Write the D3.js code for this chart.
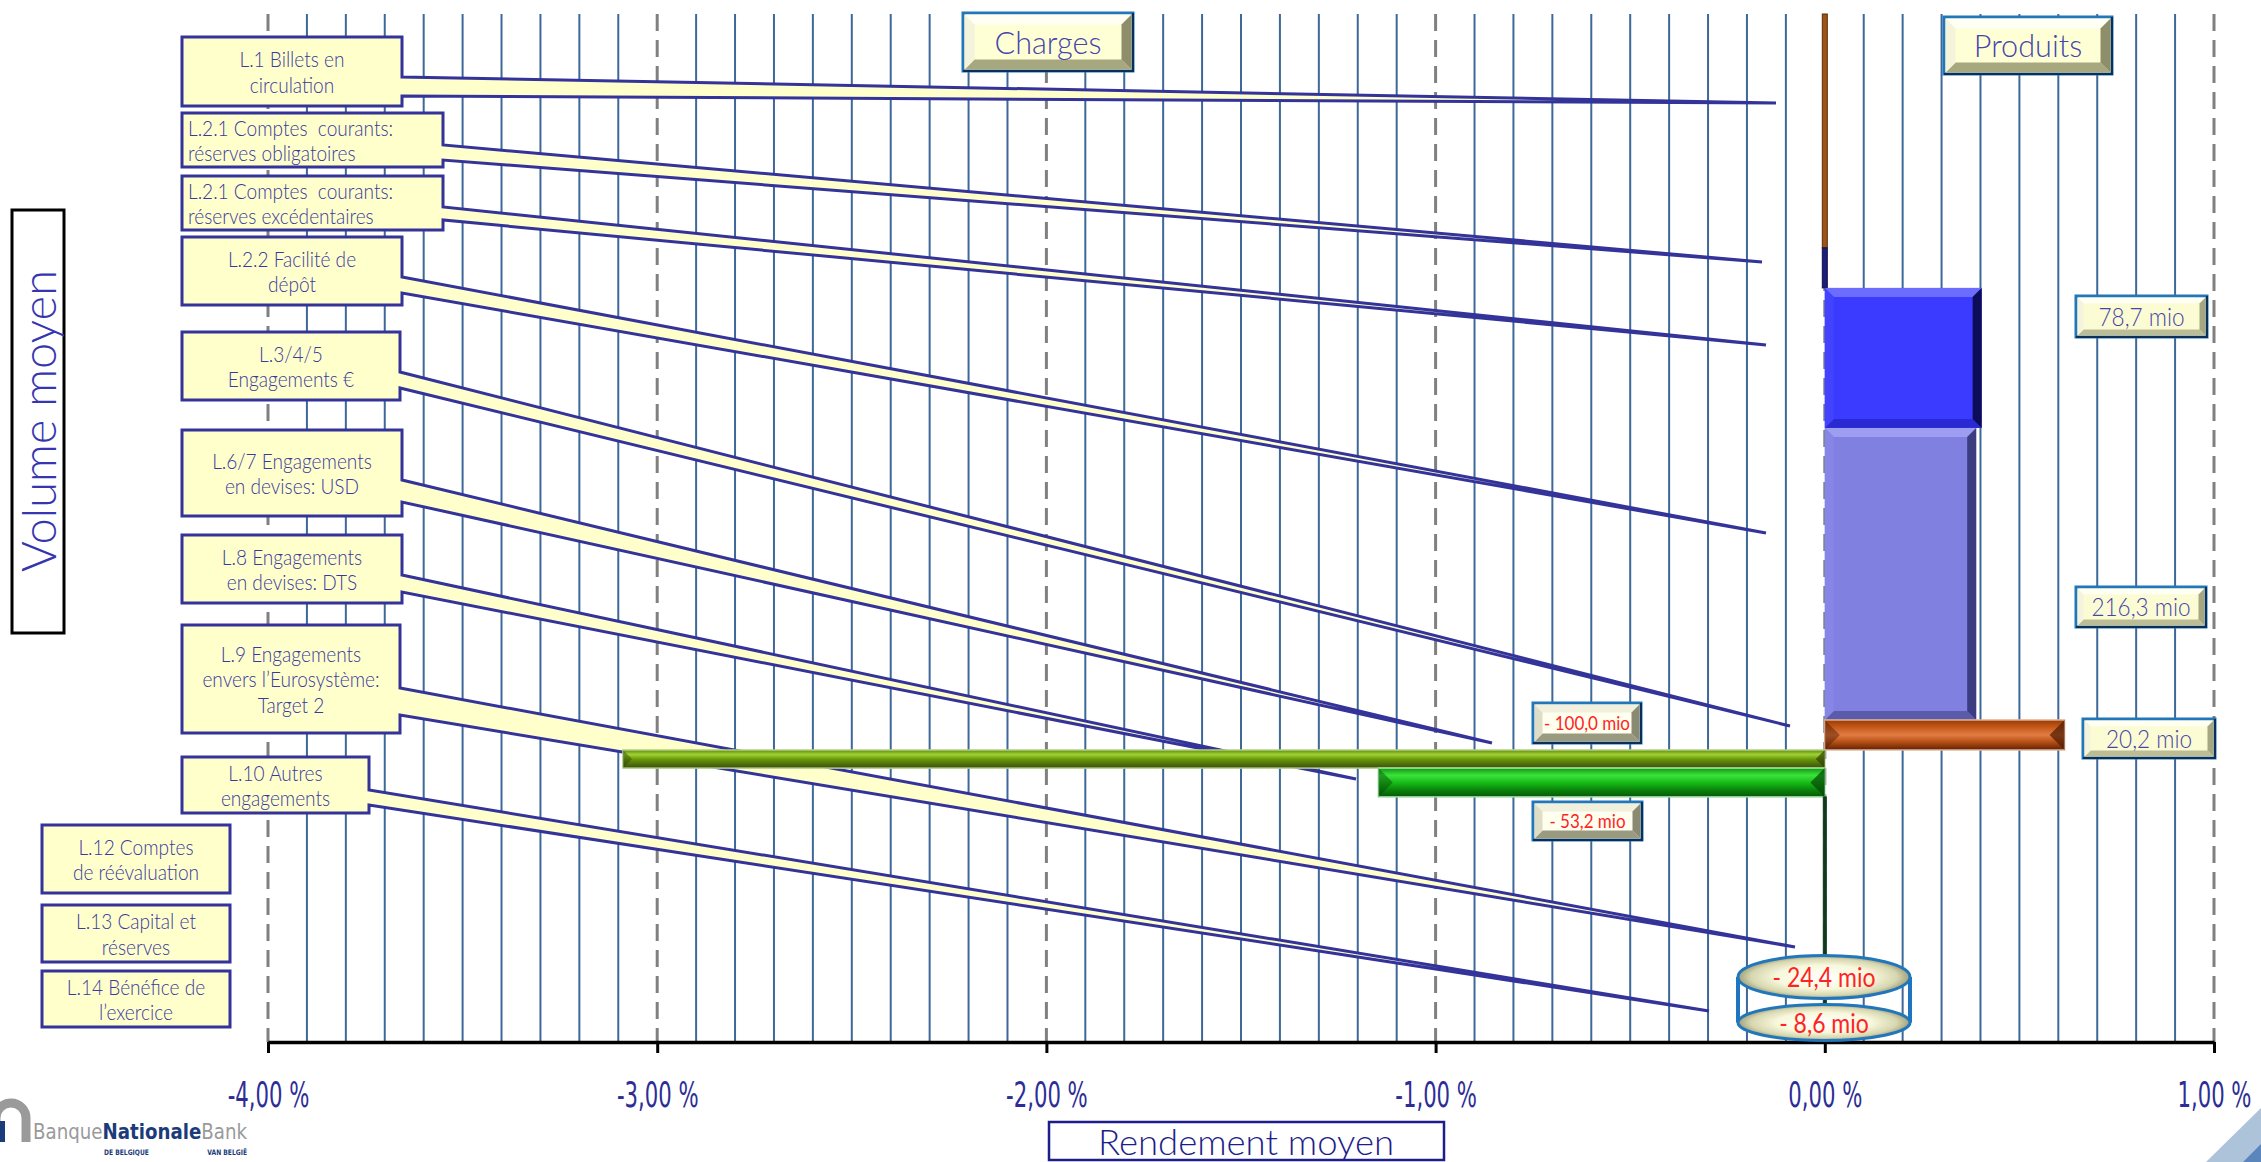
<!DOCTYPE html>
<html>
<head>
<meta charset="utf-8">
<script src="https://cdn.jsdelivr.net/npm/d3@7"></script>
<style>
html, body { margin: 0; padding: 0; background: #fff; overflow: hidden; }
svg { display: block; }
text { white-space: pre; }
</style>
</head>
<body>
<div id="chart"></div>
<script>
// --- data ---
var postes = ["L.1 Billets en circulation", "L.2.1 Réserves obligatoires", "L.2.1 Réserves excédentaires",
    "L.2.2 Facilité de dépôt", "L.3/4/5 Engagements €", "L.6/7 Engagements en devises: USD",
    "L.8 Engagements en devises: DTS", "L.9 à L.14"];
var rendements = [0, 0, 0.403, 0.389, 0.616, -3.088, -1.147, 0];      // rendement moyen, %
var volumes = [37.4, 6.4, 22.4, 46.7, 4.8, 2.9, 4.6, 39.2];           // volume moyen, Md €
var montants = [null, null, 78.7, 216.3, 20.2, -100.0, -53.2, null];  // mio €
var montantsBas = [-24.4, -8.6];                                      // mio €
var tickValues = [-4, -3, -2, -1, 0, 1];
var etiquettes = [
    ["L.1 Billets en", "circulation"],
    ["L.2.1 Comptes  courants:", "réserves obligatoires"],
    ["L.2.1 Comptes  courants:", "réserves excédentaires"],
    ["L.2.2 Facilité de", "dépôt"],
    ["L.3/4/5", "Engagements €"],
    ["L.6/7 Engagements", "en devises: USD"],
    ["L.8 Engagements", "en devises: DTS"],
    ["L.9 Engagements", "envers l’Eurosystème:", "Target 2"],
    ["L.10 Autres", "engagements"],
    ["L.12 Comptes", "de réévaluation"],
    ["L.13 Capital et", "réserves"],
    ["L.14 Bénéfice de", "l’exercice"]
];

// --- layout ---
var W = 2261, H = 1162;
var LABEL_FONT = "Lato, 'Open Sans', sans-serif";
var NARROW_FONT = "'Liberation Sans Narrow', 'DejaVu Sans Condensed', sans-serif";
var NAVY = "#33339a";

var calloutLayout = [
    {x0: 182, x1: 402, y0: 37, y1: 106, w0: 77, w1: 96, tip: [1776, 103]},
    {x0: 182, x1: 443, y0: 113, y1: 167, w0: 145, w1: 160, tip: [1762, 262], left: true},
    {x0: 182, x1: 443, y0: 176, y1: 230, w0: 207, w1: 220, tip: [1766, 345], left: true},
    {x0: 182, x1: 402, y0: 237, y1: 305, w0: 277, w1: 293, tip: [1766, 533]},
    {x0: 182, x1: 400, y0: 332, y1: 400, w0: 372, w1: 388, tip: [1790, 726]},
    {x0: 182, x1: 402, y0: 430, y1: 516, w0: 480, w1: 502, tip: [1492, 743]},
    {x0: 182, x1: 402, y0: 535, y1: 603, w0: 575, w1: 592, tip: [1356, 779]},
    {x0: 182, x1: 400, y0: 625, y1: 733, w0: 688, w1: 715, tip: [1795, 947]},
    {x0: 182, x1: 369, y0: 757, y1: 813, w0: 790, w1: 805, tip: [1709, 1011]},
    {x0: 42, x1: 230, y0: 825, y1: 893},
    {x0: 42, x1: 230, y0: 905, y1: 962},
    {x0: 42, x1: 230, y0: 971, y1: 1027}
];

var barStyles = [
    {zero: "#9a5418", edge: "#5a2c08", zw: 5},
    {zero: "#1c1c7a", edge: "#10104a", zw: 5},
    {face: "#3b3bff", top: "#6c6cff", bottom: "#2a2ad2", left: "#4242ff", right: "#0c0c58", bevel: 9},
    {face: "#8080e0", top: "#9d9df2", bottom: "#5b5bac", left: "#8686e6", right: "#3c3c80", bevel: 9},
    {grad: ["#9a3a02", "#c65a1c", "#e27c42", "#b24c14", "#5c2204"], border: "#e2b49a", cap: "#4a1a02"},
    {grad: ["#5e8c00", "#a0d038", "#6a9a06", "#52720e", "#3a5008"], border: "#b4d08c", cap: "#2e4206"},
    {grad: ["#0c9a0c", "#3ce23c", "#18bc18", "#0a860a", "#0a560a"], border: "#9edc9e", cap: "#064606"},
    {zero: "#0e3a1e", edge: "#0e3a1e", zw: 3}
];

var montantBoxes = [null, null,
    {x: 2076, y: 296, w: 131, h: 41}, {x: 2076, y: 587, w: 130, h: 40}, {x: 2083, y: 719, w: 132, h: 39},
    {x: 1533, y: 703, w: 108, h: 40}, {x: 1533, y: 802, w: 109, h: 38}, null];
var ellipses = [{cx: 1824, cy: 977, rx: 86, ry: 21.5}, {cx: 1824, cy: 1022.5, rx: 86, ry: 18}];

var locale = d3.formatLocale({decimal: ",", thousands: ".", grouping: [3], currency: ["", " €"], minus: "-"});
var fmtPct = function (v) { return locale.format(".2f")(v) + " %"; };
var fmtMio = function (v) { return (v < 0 ? "- " : "") + locale.format(".1f")(Math.abs(v)) + " mio"; };

var x = d3.scaleLinear().domain([-4, 1]).range([268, 2214]);
var y = d3.scaleLinear().domain([0, d3.sum(volumes)]).range([14, 1042]);

var svg = d3.select("#chart").append("svg")
    .attr("width", W).attr("height", H)
    .attr("viewBox", "0 0 " + W + " " + H);
var defs = svg.append("defs");

function measure(str, font, size, weight) {
    var t = svg.append("text").attr("font-family", font).attr("font-size", size)
        .attr("font-weight", weight || 400).text(str);
    var w = t.node().getComputedTextLength();
    t.remove();
    return w;
}
function squeeze(sel, factor) {
    sel.each(function () {
        var w = this.getComputedTextLength();
        this.setAttribute("textLength", w * factor);
        this.setAttribute("lengthAdjust", "spacingAndGlyphs");
    });
}
function poly(g, pts, fill) {
    g.append("polygon").attr("points", pts.map(function (p) { return p.join(","); }).join(" ")).attr("fill", fill);
}

// --- grid ---
var gridVals = d3.range(-40, 11).map(function (d) { return d / 10; });
svg.append("g").selectAll("line").data(gridVals).enter().append("line")
    .attr("x1", function (d) { return x(d); }).attr("x2", function (d) { return x(d); })
    .attr("y1", y(0)).attr("y2", y.range()[1])
    .attr("stroke", function (d) { return Math.abs(d - Math.round(d)) < 1e-9 ? "#808080" : "#3d6899"; })
    .attr("stroke-width", function (d) { return Math.abs(d - Math.round(d)) < 1e-9 ? 3 : 2; })
    .attr("stroke-dasharray", function (d) { return Math.abs(d - Math.round(d)) < 1e-9 ? "17,9" : null; });

// --- callouts ---
var labelFactor = 105 / measure("L.1 Billets en", LABEL_FONT, 21, 300);
var cg = svg.append("g");
calloutLayout.forEach(function (c, i) {
    var d = "M" + c.x0 + "," + c.y0 + "H" + c.x1;
    if (c.tip) {
        d += "V" + c.w0 + "L" + c.tip[0] + "," + c.tip[1] + "L" + c.x1 + "," + c.w1;
    }
    d += "V" + c.y1 + "H" + c.x0 + "Z";
    cg.append("path").attr("d", d).attr("fill", "#ffffcc")
        .attr("stroke", NAVY).attr("stroke-width", 3);
    var lines = etiquettes[i];
    var cy = (c.y0 + c.y1) / 2, lh = 25.5;
    var t = cg.append("g").selectAll("text").data(lines).enter().append("text")
        .attr("x", c.left ? c.x0 + 6 : (c.x0 + c.x1) / 2)
        .attr("y", function (s, j) { return cy + (j - (lines.length - 1) / 2) * lh + 21 * 0.4; })
        .attr("text-anchor", c.left ? "start" : "middle")
        .attr("font-family", LABEL_FONT).attr("font-weight", 300).attr("font-size", 21)
        .attr("fill", "#3a3a9e").text(function (s) { return s; });
    squeeze(t, labelFactor);
});

// --- bars ---
var cum = 0;
var stack = volumes.map(function (v, i) {
    var r = {i: i, y0: cum, y1: cum + v, r: rendements[i]};
    cum += v;
    return r;
});
var bg = svg.append("g");
stack.forEach(function (s) {
    var st = barStyles[s.i];
    var xa = x(Math.min(0, s.r)), xb = x(Math.max(0, s.r));
    var ya = y(s.y0), yb = y(s.y1), w = xb - xa, h = yb - ya;
    if (st.zero) {
        bg.append("rect").attr("x", x(0) - st.zw / 2).attr("y", ya).attr("width", st.zw).attr("height", h)
            .attr("fill", st.zero).attr("stroke", st.edge).attr("stroke-width", 1);
        return;
    }
    if (st.grad) {
        var id = "g" + s.i;
        var lg = defs.append("linearGradient").attr("id", id).attr("x1", 0).attr("y1", 0).attr("x2", 0).attr("y2", 1);
        st.grad.forEach(function (c, k) {
            lg.append("stop").attr("offset", k / (st.grad.length - 1)).attr("stop-color", c);
        });
        bg.append("rect").attr("x", xa).attr("y", ya).attr("width", w).attr("height", h)
            .attr("fill", "url(#" + id + ")").attr("stroke", st.border).attr("stroke-width", 1.5);
        var b = h / 2;
        bg.append("polygon").attr("points", [[xa, ya], [xa + b, ya + b], [xa, yb]].join(" "))
            .attr("fill", st.cap).attr("opacity", 0.45);
        bg.append("polygon").attr("points", [[xb, ya], [xb - b, ya + b], [xb, yb]].join(" "))
            .attr("fill", st.cap).attr("opacity", 0.7);
        return;
    }
    var bb = Math.min(st.bevel, h / 2, w / 2);
    bg.append("rect").attr("x", xa).attr("y", ya).attr("width", w).attr("height", h).attr("fill", st.face);
    poly(bg, [[xa, ya], [xb, ya], [xb - bb, ya + bb], [xa + bb, ya + bb]], st.top);
    poly(bg, [[xa, yb], [xb, yb], [xb - bb, yb - bb], [xa + bb, yb - bb]], st.bottom);
    poly(bg, [[xa, ya], [xa + bb, ya + bb], [xa + bb, yb - bb], [xa, yb]], st.left);
    poly(bg, [[xb, ya], [xb - bb, ya + bb], [xb - bb, yb - bb], [xb, yb]], st.right);
});

// --- axis ---
var axis = svg.append("g").attr("transform", "translate(0," + y.range()[1] + ")")
    .call(d3.axisBottom(x).tickValues(tickValues).tickFormat(fmtPct).tickSize(11).tickSizeOuter(0).tickPadding(28));
axis.select(".domain").attr("stroke", "#000").attr("stroke-width", 3.5);
axis.selectAll(".tick line").attr("stroke", "#000").attr("stroke-width", 3);
var tickText = axis.selectAll(".tick text")
    .attr("font-family", NARROW_FONT).attr("font-size", 36).attr("fill", "#2d2d96");
squeeze(tickText, 74 / measure("0,00 %", NARROW_FONT, 36));

// --- bevelled boxes ---
function bevelBox(g, bx, by, bw, bh, st) {
    g.append("rect").attr("x", bx).attr("y", by).attr("width", bw).attr("height", bh)
        .attr("fill", st.face).attr("stroke", st.border).attr("stroke-width", 3);
    var i = 1.5, b = st.bevel;
    var x0 = bx + i, y0 = by + i, x1 = bx + bw - i, y1 = by + bh - i;
    poly(g, [[x0, y0], [x1, y0], [x1 - b, y0 + b], [x0 + b, y0 + b]], st.top);
    poly(g, [[x0, y1], [x1, y1], [x1 - b, y1 - b], [x0 + b, y1 - b]], st.bottom);
    poly(g, [[x0, y0], [x0 + b, y0 + b], [x0 + b, y1 - b], [x0, y1]], st.left);
    poly(g, [[x1, y0], [x1 - b, y0 + b], [x1 - b, y1 - b], [x1, y1]], st.right);
    g.append("path").attr("d", "M" + (bx + bw) + "," + by + "V" + (by + bh) + "H" + bx)
        .attr("fill", "none").attr("stroke", "#0b2f57").attr("stroke-width", 2);
}
var boxBlue = {face: "#fbfbd4", border: "#2277bb", top: "#fffff2", left: "#f4f4de", bottom: "#bcbc96", right: "#a6a680", bevel: 6};
var boxTitle = {face: "#ffffd6", border: "#2277bb", top: "#fffff4", left: "#f4f4dc", bottom: "#a8a880", right: "#8e8e6a", bevel: 10};
var boxRed = {face: "#fffff0", border: "#2277bb", top: "#f0f0dc", left: "#dedec6", bottom: "#9a9a80", right: "#8a8a72", bevel: 8};

var lg2 = svg.append("g");
var valFactor = 86 / measure("78,7 mio", LABEL_FONT, 25, 300);
var redFactor = 86 / measure("- 100,0 mio", LABEL_FONT, 19, 400);
montants.forEach(function (m, i) {
    var b = montantBoxes[i];
    if (m === null || !b) { return; }
    var neg = m < 0;
    bevelBox(lg2, b.x, b.y, b.w, b.h, neg ? boxRed : boxBlue);
    var t = lg2.append("text").attr("x", b.x + b.w / 2)
        .attr("y", b.y + b.h / 2 + (neg ? 19 : 25) * 0.36)
        .attr("text-anchor", "middle").attr("font-family", LABEL_FONT)
        .attr("font-weight", neg ? 400 : 300).attr("font-size", neg ? 19 : 25)
        .attr("fill", neg ? "#ff2424" : "#4646a8").text(fmtMio(m));
    squeeze(t, neg ? redFactor : valFactor);
});

var titleFactor = 107 / measure("Charges", LABEL_FONT, 32, 300);
[{s: "Charges", x: 963, y: 13, w: 170, h: 58}, {s: "Produits", x: 1944, y: 17, w: 168, h: 57}].forEach(function (b) {
    bevelBox(lg2, b.x, b.y, b.w, b.h, boxTitle);
    var t = lg2.append("text").attr("x", b.x + b.w / 2).attr("y", b.y + b.h / 2 + 11.5)
        .attr("text-anchor", "middle").attr("font-family", LABEL_FONT).attr("font-weight", 300)
        .attr("font-size", 32).attr("fill", "#4646aa").text(b.s);
    squeeze(t, titleFactor);
});

// --- ellipse labels ---
var rg = defs.append("radialGradient").attr("id", "ell");
[["0", "#ffffff"], ["0.55", "#f8f8dc"], ["0.85", "#d6d6b0"], ["1", "#a0a07c"]].forEach(function (s) {
    rg.append("stop").attr("offset", s[0]).attr("stop-color", s[1]);
});
var eg = svg.append("g");
[ellipses[0].cx - ellipses[0].rx, ellipses[0].cx + ellipses[0].rx].forEach(function (ex) {
    eg.append("line").attr("x1", ex).attr("x2", ex).attr("y1", ellipses[0].cy).attr("y2", ellipses[1].cy)
        .attr("stroke", "#1f74c2").attr("stroke-width", 4);
});
var ellFactor = 103 / measure("- 24,4 mio", LABEL_FONT, 26, 400);
ellipses.slice().reverse().forEach(function (e, k) {
    var i = ellipses.length - 1 - k;
    eg.append("ellipse").attr("cx", e.cx).attr("cy", e.cy).attr("rx", e.rx).attr("ry", e.ry)
        .attr("fill", "url(#ell)").attr("stroke", "#2277bb").attr("stroke-width", 3);
    var t = eg.append("text").attr("x", e.cx).attr("y", e.cy + 10)
        .attr("text-anchor", "middle").attr("font-family", LABEL_FONT).attr("font-weight", 400)
        .attr("font-size", 26).attr("fill", "#ff2424").text(fmtMio(montantsBas[i]));
    squeeze(t, ellFactor);
});

// --- axis titles ---
svg.append("rect").attr("x", 12).attr("y", 210).attr("width", 52).attr("height", 423)
    .attr("fill", "none").attr("stroke", "#000").attr("stroke-width", 3);
svg.append("text").attr("transform", "translate(56,421) rotate(-90)")
    .attr("text-anchor", "middle").attr("font-family", LABEL_FONT).attr("font-weight", 300)
    .attr("font-size", 48).attr("fill", "#3636b0")
    .attr("textLength", 302).attr("lengthAdjust", "spacingAndGlyphs").text("Volume moyen");

svg.append("rect").attr("x", 1049).attr("y", 1122).attr("width", 395).attr("height", 38)
    .attr("fill", "none").attr("stroke", "#1e1e8a").attr("stroke-width", 2.5);
svg.append("text").attr("x", 1246).attr("y", 1155)
    .attr("text-anchor", "middle").attr("font-family", LABEL_FONT).attr("font-weight", 300)
    .attr("font-size", 36).attr("fill", "#1e1e8a")
    .attr("textLength", 296).attr("lengthAdjust", "spacingAndGlyphs").text("Rendement moyen");

// --- logo & corner ---
var logo = svg.append("g");
logo.append("path").attr("d", "M-4,1142V1118A15,15 0 0 1 26,1118V1142")
    .attr("fill", "none").attr("stroke", "#9a9a9a").attr("stroke-width", 9);
logo.append("rect").attr("x", 0).attr("y", 1121).attr("width", 5).attr("height", 21).attr("fill", "#1b3b7b");
var brand = logo.append("text").attr("x", 33).attr("y", 1139).attr("font-family", NARROW_FONT)
    .attr("font-size", 22).attr("textLength", 214).attr("lengthAdjust", "spacingAndGlyphs");
brand.append("tspan").attr("fill", "#9a9a9a").text("Banque");
brand.append("tspan").attr("fill", "#1b3b7b").attr("font-weight", 700).text("Nationale");
brand.append("tspan").attr("fill", "#9a9a9a").text("Bank");
var sub = logo.append("text").attr("x", 104).attr("y", 1155).attr("font-family", NARROW_FONT)
    .attr("font-size", 7.5).attr("font-weight", 700).attr("fill", "#1b3b7b")
    .attr("textLength", 143).attr("lengthAdjust", "spacingAndGlyphs");
sub.text("DE BELGIQUE                            VAN BELGIË");
poly(svg, [[2206, 1162], [2261, 1108], [2261, 1162]], "#adc3da");
poly(svg, [[2243, 1162], [2261, 1144], [2261, 1162]], "#5a86bd");
</script>
</body>
</html>
